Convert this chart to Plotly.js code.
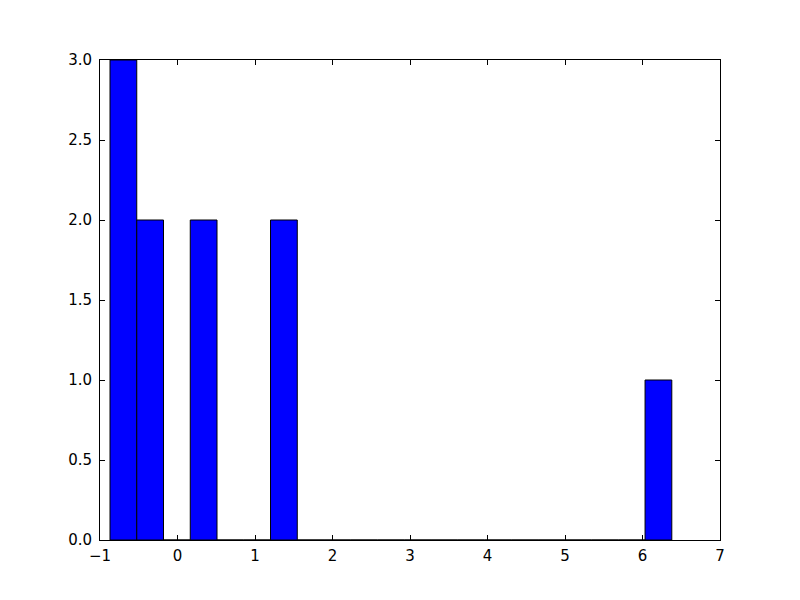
<!DOCTYPE html>
<html>
<head>
<meta charset="utf-8">
<script src="https://cdn.plot.ly/plotly-3.0.1.min.js"></script>
<style>html,body{margin:0;padding:0;background:#fff;}#chart{width:800px;height:600px;}</style>
</head>
<body>
<div id="chart"></div>
<script>
// Histogram bin definition and counts
const binStart = -0.871;
const binWidth = 0.3452;
const counts = [3, 2, 0, 2, 0, 0, 2, 0, 0, 0, 0, 0, 0, 0, 0, 0, 0, 0, 0, 0, 1];
const xTicks = [-1, 0, 1, 2, 3, 4, 5, 6, 7];
const yTicks = [0.0, 0.5, 1.0, 1.5, 2.0, 2.5, 3.0];
const yTickLabels = ["0.0", "0.5", "1.0", "1.5", "2.0", "2.5", "3.0"];

const centers = counts.map((c, i) => binStart + (i + 0.5) * binWidth);

const trace = {
  type: 'bar',
  x: centers,
  y: counts,
  width: binWidth,
  marker: {color: '#0000ff', line: {color: '#000000', width: 1}},
  hoverinfo: 'x+y'
};

const axisCommon = {
  showline: true, linecolor: '#000', linewidth: 1, mirror: 'ticks',
  ticks: 'inside', ticklen: 5, tickwidth: 1, tickcolor: '#000',
  showgrid: false, zeroline: false,
  tickfont: {family: 'DejaVu Sans', size: 15, color: '#000'}
};

const layout = {
  width: 800, height: 600,
  margin: {l: 100, r: 80, t: 60, b: 60},
  paper_bgcolor: '#fff', plot_bgcolor: '#fff',
  showlegend: false,
  bargap: 0,
  xaxis: Object.assign({}, axisCommon, {range: [-1, 7], tickvals: xTicks, ticklabelstandoff: 2}),
  yaxis: Object.assign({}, axisCommon, {range: [0, 3], tickvals: yTicks, ticktext: yTickLabels, ticklabelstandoff: 4})
};

Plotly.newPlot('chart', [trace], layout, {displayModeBar: false, staticPlot: true});
</script>
</body>
</html>
